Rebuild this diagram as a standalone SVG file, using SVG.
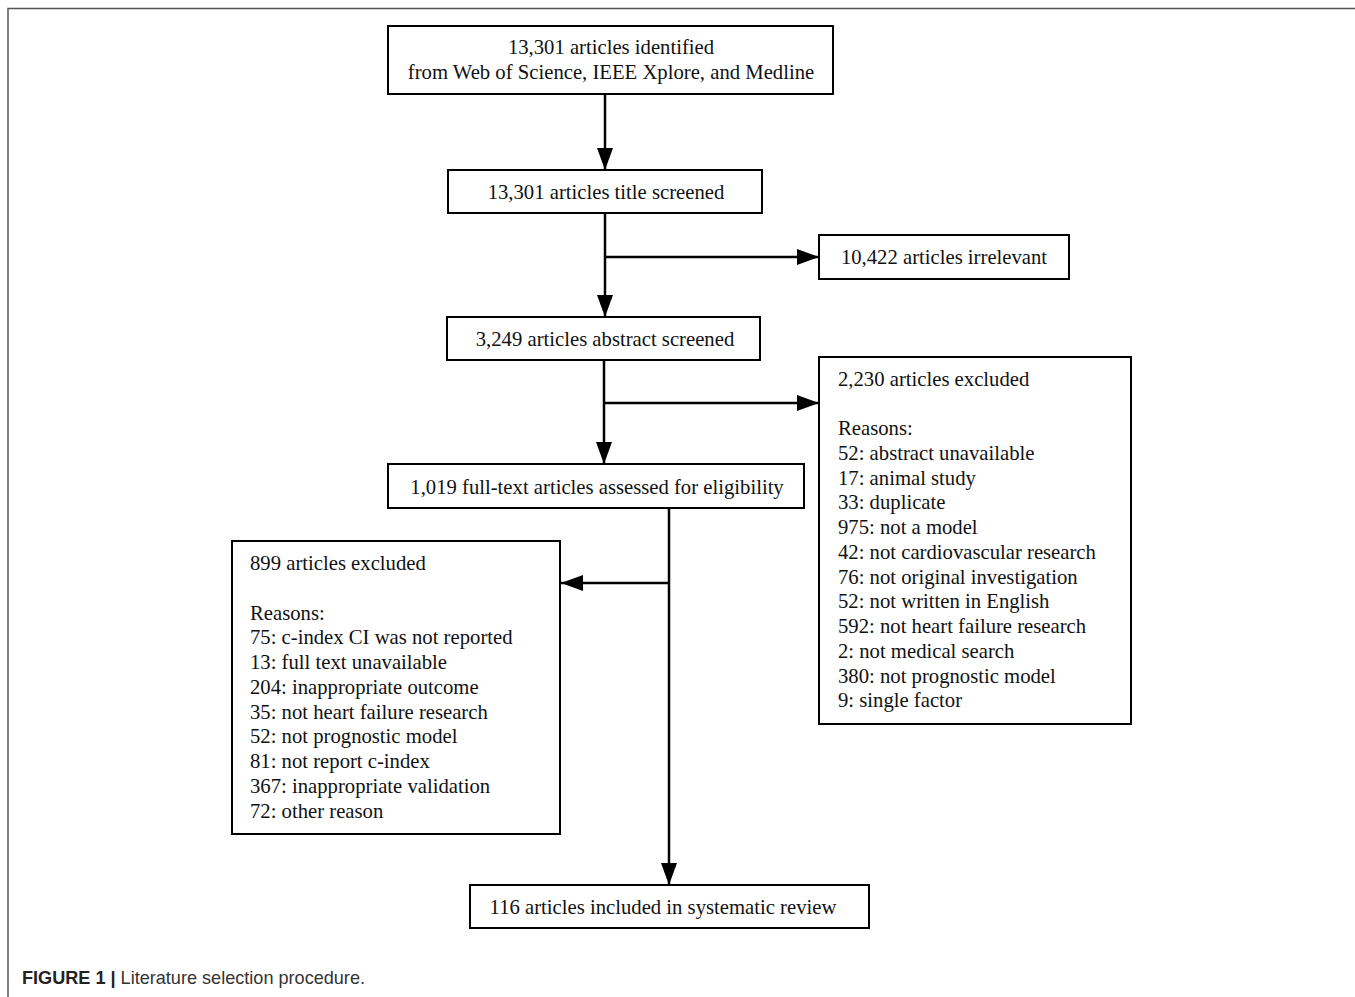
<svg xmlns="http://www.w3.org/2000/svg" width="1355" height="997" viewBox="0 0 1355 997">
<defs>
<style>
.box{fill:#fff;stroke:#000;stroke-width:2}
.t{font-family:"Liberation Serif","Times New Roman",serif;font-size:20.7px;fill:#111}
.c{text-anchor:middle}
.ln{stroke:#000;stroke-width:2.5;fill:none}
.cap{font-family:"Liberation Sans",Arial,sans-serif;font-size:18.1px;fill:#333}
</style>
<marker id="ah" viewBox="0 0 22 16" refX="22" refY="8" markerWidth="22" markerHeight="16" markerUnits="userSpaceOnUse" orient="auto">
<path d="M0,0 L22,8 L0,16 Z" fill="#000"/>
</marker>
</defs>
<rect width="1355" height="997" fill="#fff"/>
<path d="M8,997 V8.5 H1355" fill="none" stroke="#555" stroke-width="1.5"/>
<g id="connectors">
<line class="ln" x1="605" y1="94" x2="605" y2="170" marker-end="url(#ah)"/>
<line class="ln" x1="605" y1="213" x2="605" y2="317" marker-end="url(#ah)"/>
<line class="ln" x1="605" y1="257" x2="819" y2="257" marker-end="url(#ah)"/>
<line class="ln" x1="604" y1="360" x2="604" y2="464" marker-end="url(#ah)"/>
<line class="ln" x1="604" y1="403" x2="819" y2="403" marker-end="url(#ah)"/>
<line class="ln" x1="669" y1="508" x2="669" y2="885" marker-end="url(#ah)"/>
<line class="ln" x1="669" y1="583" x2="561" y2="583" marker-end="url(#ah)"/>
</g>
<g id="n1">
<rect class="box" x="388" y="26" width="445" height="68"/>
<text class="t c" x="611" y="54">13,301 articles identified</text>
<text class="t c" x="611" y="79">from Web of Science, IEEE Xplore, and Medline</text>
</g>
<g id="n2">
<rect class="box" x="448" y="170" width="314" height="43"/>
<text class="t c" x="606" y="199">13,301 articles title screened</text>
</g>
<g id="n3">
<rect class="box" x="819" y="235" width="250" height="44"/>
<text class="t c" x="944" y="264">10,422 articles irrelevant</text>
</g>
<g id="n4">
<rect class="box" x="447" y="317" width="313" height="43"/>
<text class="t c" x="605" y="346">3,249 articles abstract screened</text>
</g>
<g id="n5">
<rect class="box" x="819" y="357" width="312" height="367"/>
<text class="t" x="838" y="386">2,230 articles excluded</text>
<text class="t" x="838" y="435">Reasons:</text>
<text class="t" x="838" y="460">52: abstract unavailable</text>
<text class="t" x="838" y="485">17: animal study</text>
<text class="t" x="838" y="509">33: duplicate</text>
<text class="t" x="838" y="534">975: not a model</text>
<text class="t" x="838" y="559">42: not cardiovascular research</text>
<text class="t" x="838" y="584">76: not original investigation</text>
<text class="t" x="838" y="608">52: not written in English</text>
<text class="t" x="838" y="633">592: not heart failure research</text>
<text class="t" x="838" y="658">2: not medical search</text>
<text class="t" x="838" y="683">380: not prognostic model</text>
<text class="t" x="838" y="707">9: single factor</text>
</g>
<g id="n6">
<rect class="box" x="388" y="464" width="416" height="44"/>
<text class="t c" x="597" y="494">1,019 full-text articles assessed for eligibility</text>
</g>
<g id="n7">
<rect class="box" x="232" y="541" width="328" height="293"/>
<text class="t" x="250" y="570">899 articles excluded</text>
<text class="t" x="250" y="620">Reasons:</text>
<text class="t" x="250" y="644">75: c-index CI was not reported</text>
<text class="t" x="250" y="669">13: full text unavailable</text>
<text class="t" x="250" y="694">204: inappropriate outcome</text>
<text class="t" x="250" y="719">35: not heart failure research</text>
<text class="t" x="250" y="743">52: not prognostic model</text>
<text class="t" x="250" y="768">81: not report c-index</text>
<text class="t" x="250" y="793">367: inappropriate validation</text>
<text class="t" x="250" y="818">72: other reason</text>
</g>
<g id="n8">
<rect class="box" x="470" y="885" width="399" height="43"/>
<text class="t c" x="663" y="914">116 articles included in systematic review</text>
</g>
<text class="cap" x="22" y="984"><tspan font-weight="bold" fill="#222">FIGURE 1 |</tspan> Literature selection procedure.</text>
</svg>
